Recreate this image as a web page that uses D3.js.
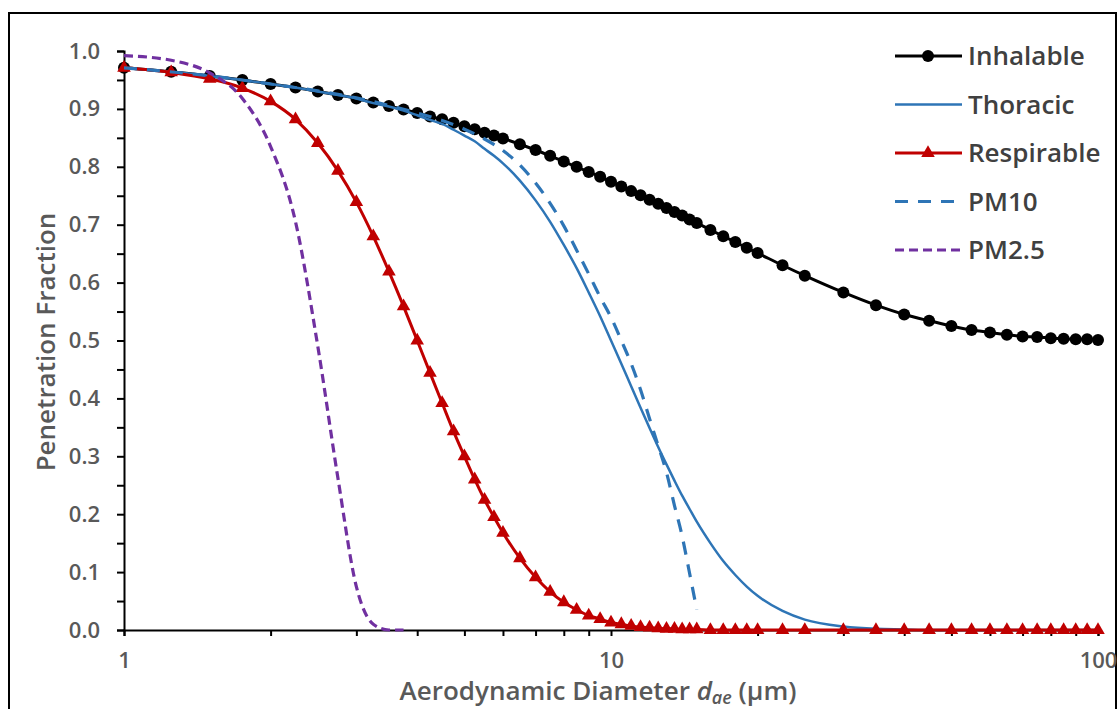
<!DOCTYPE html>
<html lang="en">
<head>
    <meta charset="UTF-8">
    <title>Penetration Fraction vs Aerodynamic Diameter</title>
    <script src="https://d3js.org/d3.v7.min.js"></script>
    <style>
        body { margin: 0; background: #fff; }
        svg text { font-family: "Open Sans", Lato, sans-serif; }
    </style>
</head>
<body>
    <svg id="chart" width="1119" height="709"></svg>

    <script>
        // diameters (um) of the plotted points
        const diam = [1, 1.25, 1.5, 1.75, 2, 2.25, 2.5, 2.75, 3, 3.25, 3.5, 3.75, 4, 4.25, 4.5, 4.75, 5, 5.25, 5.5, 5.75, 6,
            6.5, 7, 7.5, 8, 8.5, 9, 9.5, 10, 10.5, 11, 11.5, 12, 12.5, 13, 13.5, 14, 14.5, 15,
            16, 17, 18, 19, 20, 22.5, 25,
            30, 35, 40, 45, 50, 55, 60, 65, 70, 75, 80, 85, 90, 95, 100];

        const inhalable = [0.971, 0.964, 0.957, 0.950, 0.943, 0.937, 0.930, 0.924, 0.918, 0.911, 0.905, 0.899, 0.893, 0.887, 0.882, 0.876, 0.870, 0.865, 0.859, 0.854, 0.849,
            0.839, 0.829, 0.819, 0.809, 0.800, 0.791, 0.783, 0.774, 0.766, 0.758, 0.751, 0.743, 0.736, 0.729, 0.722, 0.716, 0.709, 0.703,
            0.691, 0.680, 0.670, 0.660, 0.651, 0.630, 0.612,
            0.583, 0.561, 0.545, 0.534, 0.525, 0.518, 0.514, 0.510, 0.507, 0.506, 0.504, 0.503, 0.502, 0.502, 0.501];

        const thoracic = [0.971, 0.964, 0.957, 0.950, 0.943, 0.937, 0.930, 0.924, 0.918, 0.910, 0.904, 0.897, 0.889, 0.881, 0.874, 0.864, 0.854, 0.844, 0.831, 0.819, 0.806,
            0.776, 0.742, 0.705, 0.665, 0.625, 0.583, 0.542, 0.500, 0.460, 0.421, 0.384, 0.349, 0.316, 0.286, 0.258, 0.232, 0.209, 0.187,
            0.150, 0.119, 0.095, 0.075, 0.059, 0.033, 0.018,
            0.006, 0.002, 0.001, 0, 0, 0, 0, 0, 0, 0, 0, 0, 0, 0, 0];

        const respirable = [0.971, 0.963, 0.952, 0.936, 0.913, 0.882, 0.841, 0.793, 0.739, 0.680, 0.619, 0.559, 0.500, 0.444, 0.392, 0.343, 0.300, 0.260, 0.225, 0.195, 0.168,
            0.124, 0.091, 0.066, 0.048, 0.035, 0.025, 0.019, 0.013, 0.010, 0.007, 0.005, 0.004, 0.003, 0.002, 0.002, 0.001, 0.001, 0.001,
            0, 0, 0, 0, 0, 0, 0,
            0, 0, 0, 0, 0, 0, 0, 0, 0, 0, 0, 0, 0, 0, 0];

        const pm10Diam = [1, 1.5, 2, 2.5, 3, 3.5, 4, 4.5, 5, 5.5, 6, 6.5, 7, 7.5, 8, 8.5, 9, 9.5, 10, 10.5, 11, 11.5, 12, 12.5, 13, 13.5, 14, 14.5, 15];
        const pm10 = [0.971, 0.957, 0.943, 0.931, 0.919, 0.906, 0.893, 0.880, 0.865, 0.848, 0.828, 0.803, 0.772, 0.737, 0.698, 0.656, 0.615, 0.575, 0.540, 0.500, 0.460, 0.415, 0.365, 0.318, 0.272, 0.215, 0.162, 0.098, 0.035];

        const pm25Diam = [1, 1.25, 1.5, 1.75, 2, 2.25, 2.5, 2.75, 3, 3.25, 3.5, 3.75];
        const pm25 = [0.992, 0.984, 0.962, 0.918, 0.835, 0.705, 0.490, 0.262, 0.075, 0.010, 0, 0];

        const xTicks = [1, 2, 3, 4, 5, 6, 7, 8, 9, 10, 20, 30, 40, 50, 60, 70, 80, 90, 100];
        const xLabels = [1, 10, 100];
        const yTicks = [0, 0.1, 0.2, 0.3, 0.4, 0.5, 0.6, 0.7, 0.8, 0.9, 1.0];
        const yMinor = [0.05, 0.15, 0.25, 0.35, 0.45, 0.55, 0.65, 0.75, 0.85, 0.95];

        const series = [
            { name: 'Inhalable', xs: diam, ys: inhalable, color: '#000000', width: 3, dash: null, marker: 'circle' },
            { name: 'Thoracic', xs: diam, ys: thoracic, color: '#2E75B6', width: 2.5, dash: null, marker: null },
            { name: 'Respirable', xs: diam, ys: respirable, color: '#C00000', width: 3, dash: null, marker: 'triangle' },
            { name: 'PM10', xs: pm10Diam, ys: pm10, color: '#2E75B6', width: 3.2, dash: '13,10', marker: null },
            { name: 'PM2.5', xs: pm25Diam, ys: pm25, color: '#7030A0', width: 3.2, dash: '9,5', marker: null }
        ];

        const svg = d3.select('#chart');

        // outer frame
        svg.append('rect')
            .attr('x', 9).attr('y', 13)
            .attr('width', 1107).attr('height', 710)
            .attr('fill', 'none').attr('stroke', '#000').attr('stroke-width', 2);

        const x = d3.scaleLog().domain([1, 100]).range([124, 1098]);
        const y = d3.scaleLinear().domain([0, 1]).range([630, 51]);

        // y axis
        svg.append('g')
            .attr('transform', 'translate(124,0)')
            .call(d3.axisLeft(y).tickValues(yTicks).tickFormat(d3.format('.1f')).tickSize(7).tickPadding(17));
        svg.append('g')
            .attr('transform', 'translate(124,0)')
            .call(d3.axisLeft(y).tickValues(yMinor).tickFormat('').tickSize(7))
            .select('.domain').remove();

        // x axis
        svg.append('g')
            .attr('transform', 'translate(0,630)')
            .call(d3.axisBottom(x).tickValues(xTicks)
                .tickFormat(d => xLabels.includes(d) ? d : '')
                .tickSize(6).tickPadding(16));

        svg.selectAll('.domain').attr('stroke', '#000').attr('stroke-width', 2);
        svg.selectAll('.tick line').attr('stroke', '#000').attr('stroke-width', 2);
        svg.selectAll('.tick text')
            .attr('fill', '#595959')
            .style('font-size', '22px')
            .style('font-weight', '600');

        // axis titles
        svg.append('text')
            .attr('transform', 'rotate(-90)')
            .attr('x', -342).attr('y', 55)
            .attr('text-anchor', 'middle')
            .attr('fill', '#595959')
            .style('font-size', '26px')
            .style('font-weight', '600')
            .text('Penetration Fraction');

        const xt = svg.append('text')
            .attr('x', 598).attr('y', 700)
            .attr('text-anchor', 'middle')
            .attr('fill', '#595959')
            .style('font-size', '26px')
            .style('font-weight', '600');
        xt.append('tspan').text('Aerodynamic Diameter ');
        xt.append('tspan').attr('font-style', 'italic').text('d');
        xt.append('tspan').attr('font-style', 'italic').attr('dy', 4).style('font-size', '18px').text('ae');
        xt.append('tspan').attr('dy', -4).text(' (\u00b5m)');

        const line = d3.line().curve(d3.curveMonotoneX);
        const tri = d3.symbol().type(d3.symbolTriangle).size(80);

        const plot = svg.append('g');
        series.forEach(s => {
            const pts = s.xs.map((d, i) => [x(d), y(s.ys[i])]);
            plot.append('path')
                .attr('d', line(pts))
                .attr('fill', 'none')
                .attr('stroke', s.color)
                .attr('stroke-width', s.width)
                .attr('stroke-dasharray', s.dash);
            if (s.marker === 'circle') {
                plot.selectAll(null).data(pts).join('circle')
                    .attr('cx', p => p[0]).attr('cy', p => p[1])
                    .attr('r', 6).attr('fill', s.color);
            } else if (s.marker === 'triangle') {
                plot.selectAll(null).data(pts).join('path')
                    .attr('d', tri)
                    .attr('transform', p => `translate(${p[0]},${p[1]})`)
                    .attr('fill', s.color);
            }
        });

        // legend
        const legend = svg.append('g');
        series.forEach((s, i) => {
            const ly = 56 + i * 48.5;
            legend.append('line')
                .attr('x1', 895).attr('x2', 962)
                .attr('y1', ly).attr('y2', ly)
                .attr('stroke', s.color)
                .attr('stroke-width', s.width)
                .attr('stroke-dasharray', s.dash);
            if (s.marker === 'circle') {
                legend.append('circle').attr('cx', 928).attr('cy', ly).attr('r', 6).attr('fill', s.color);
            } else if (s.marker === 'triangle') {
                legend.append('path').attr('d', tri).attr('transform', `translate(928,${ly})`).attr('fill', s.color);
            }
            legend.append('text')
                .attr('x', 968).attr('y', ly)
                .attr('dy', '0.36em')
                .attr('fill', '#404040')
                .style('font-size', '26px')
                .style('font-weight', '600')
                .text(s.name);
        });
    </script>
</body>
</html>
